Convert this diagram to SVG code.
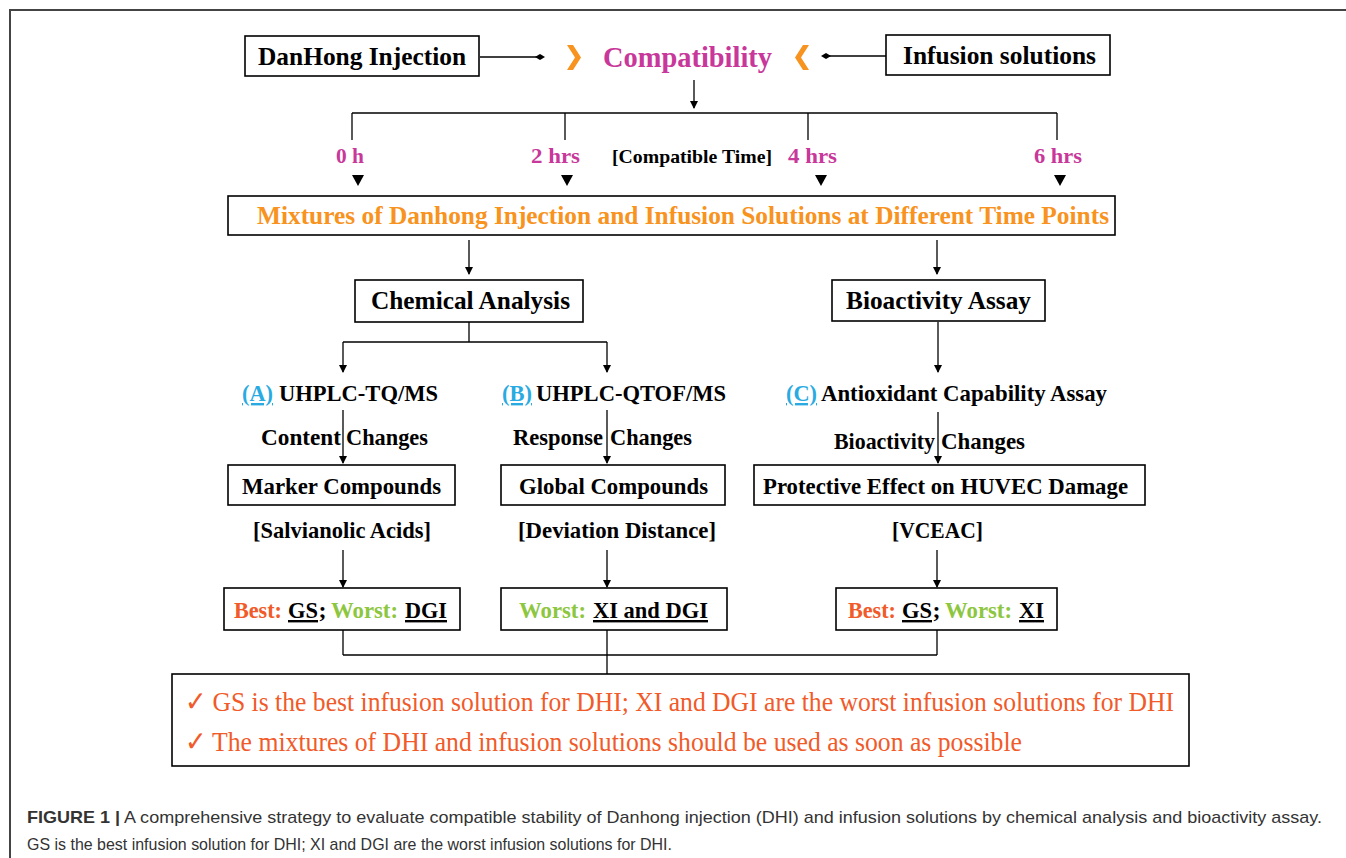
<svg xmlns="http://www.w3.org/2000/svg" width="1346" height="858" viewBox="0 0 1346 858">
<defs>
<marker id="arr" markerUnits="userSpaceOnUse" markerWidth="8" markerHeight="11" refX="7" refY="4" orient="auto">
<path d="M0,0 L8,4 L0,8 z" fill="#000"/>
</marker>
<marker id="dia" markerUnits="userSpaceOnUse" markerWidth="10" markerHeight="8" refX="5" refY="4" orient="auto">
<path d="M0,4 L5,1 L10,4 L5,7 z" fill="#000"/>
</marker>
</defs>
<style>
.box{fill:#fff;stroke:#000;stroke-width:1.6}
.frame{fill:none;stroke:#444;stroke-width:2}
.t{font-family:"Liberation Serif","Times New Roman",serif;font-weight:bold;fill:#000}
.mag{fill:#c8389a}
.org{fill:#f7931e}
.red{fill:#f15a29}
.grn{fill:#8dc63f}
.blu{fill:#29abe2;text-decoration:underline}
.ul{text-decoration:underline}
.fin{font-family:"Liberation Serif","Times New Roman",serif;fill:#f15a29;font-size:28px}
.cap{font-family:"Liberation Sans",Arial,sans-serif;fill:#333;font-size:17px}
.ln{stroke:#000;stroke-width:1.3;fill:none}
.ar{stroke:#000;stroke-width:1.3;fill:none;marker-end:url(#arr)}
.chev{fill:#f7931e}
</style>
<rect class="frame" x="10" y="10" width="1400" height="900"/>

<g id="connectors">
<line x1="480" y1="57" x2="540" y2="57" class="ln" marker-end="url(#dia)"/>
<line x1="886" y1="56" x2="826" y2="56" class="ln" marker-end="url(#dia)"/>
<line x1="694" y1="80" x2="694" y2="108" class="ar"/>
<line x1="352" y1="113" x2="1057" y2="113" class="ln"/>
<line x1="352" y1="113" x2="352" y2="140" class="ln"/>
<line x1="565" y1="113" x2="565" y2="140" class="ln"/>
<line x1="808" y1="113" x2="808" y2="140" class="ln"/>
<line x1="1057" y1="113" x2="1057" y2="140" class="ln"/>
<polygon points="352,175 364,175 358,186" fill="#000"/>
<polygon points="561,175 573,175 567,186" fill="#000"/>
<polygon points="815,175 827,175 821,186" fill="#000"/>
<polygon points="1054,175 1066,175 1060,186" fill="#000"/>
<line x1="469" y1="240" x2="469" y2="274" class="ar"/>
<line x1="937" y1="240" x2="937" y2="274" class="ar"/>
<line x1="469" y1="322" x2="469" y2="342" class="ln"/>
<line x1="343" y1="342" x2="607" y2="342" class="ln"/>
<line x1="343" y1="342" x2="343" y2="372" class="ar"/>
<line x1="607" y1="342" x2="607" y2="372" class="ar"/>
<line x1="938" y1="322" x2="938" y2="372" class="ar"/>
<line x1="343" y1="410" x2="343" y2="463" class="ar"/>
<line x1="607" y1="410" x2="607" y2="463" class="ar"/>
<line x1="938" y1="412" x2="938" y2="463" class="ar"/>
<line x1="343" y1="550" x2="343" y2="587" class="ar"/>
<line x1="607" y1="550" x2="607" y2="587" class="ar"/>
<line x1="937" y1="550" x2="937" y2="587" class="ar"/>
<line x1="343" y1="630" x2="343" y2="655" class="ln"/>
<line x1="937" y1="630" x2="937" y2="655" class="ln"/>
<line x1="343" y1="655" x2="937" y2="655" class="ln"/>
<line x1="607" y1="630" x2="607" y2="674" class="ln"/>
</g>

<g id="danhong">
<rect class="box" x="245" y="36" width="234" height="40"/>
<text class="t" x="258" y="65" font-size="26" textLength="208" lengthAdjust="spacingAndGlyphs">DanHong Injection</text>
</g>
<g id="compatibility">
<polygon class="chev" points="567,45 573,45 581,57.5 573,70 567,70 575,57.5"/>
<text class="t mag" x="603" y="67" font-size="29" textLength="169" lengthAdjust="spacingAndGlyphs">Compatibility</text>
<polygon class="chev" points="809,45 803,45 795,57.5 803,70 809,70 801,57.5"/>
</g>
<g id="infusion">
<rect class="box" x="886" y="35" width="224" height="40"/>
<text class="t" x="903" y="64" font-size="26" textLength="193" lengthAdjust="spacingAndGlyphs">Infusion solutions</text>
</g>
<g id="times">
<text class="t mag" x="336" y="163" font-size="22" textLength="28" lengthAdjust="spacingAndGlyphs">0 h</text>
<text class="t mag" x="531" y="163" font-size="22" textLength="49" lengthAdjust="spacingAndGlyphs">2 hrs</text>
<text class="t" x="612" y="163" font-size="19" textLength="160" lengthAdjust="spacingAndGlyphs">[Compatible Time]</text>
<text class="t mag" x="788" y="163" font-size="22" textLength="49" lengthAdjust="spacingAndGlyphs">4 hrs</text>
<text class="t mag" x="1034" y="163" font-size="22" textLength="48" lengthAdjust="spacingAndGlyphs">6 hrs</text>
</g>
<g id="mixtures">
<rect class="box" x="228" y="196" width="887" height="39"/>
<text class="t org" x="257" y="224" font-size="25" textLength="852" lengthAdjust="spacingAndGlyphs">Mixtures of Danhong Injection and Infusion Solutions at Different Time Points</text>
</g>
<g id="chemical">
<rect class="box" x="355" y="280" width="228" height="42"/>
<text class="t" x="371" y="309" font-size="25" textLength="199" lengthAdjust="spacingAndGlyphs">Chemical Analysis</text>
</g>
<g id="bioactivity">
<rect class="box" x="832" y="280" width="213" height="41"/>
<text class="t" x="846" y="309" font-size="25" textLength="185" lengthAdjust="spacingAndGlyphs">Bioactivity Assay</text>
</g>
<g id="methodA">
<text class="t blu" x="242" y="401" font-size="24" textLength="31" lengthAdjust="spacingAndGlyphs">(A)</text>
<text class="t" x="279" y="401" font-size="24" textLength="159" lengthAdjust="spacingAndGlyphs">UHPLC-TQ/MS</text>
<text class="t" x="261" y="445" font-size="23" textLength="80" lengthAdjust="spacingAndGlyphs">Content</text>
<text class="t" x="346" y="445" font-size="23" textLength="82" lengthAdjust="spacingAndGlyphs">Changes</text>
</g>
<g id="methodB">
<text class="t blu" x="502" y="401" font-size="24" textLength="30" lengthAdjust="spacingAndGlyphs">(B)</text>
<text class="t" x="536" y="401" font-size="24" textLength="190" lengthAdjust="spacingAndGlyphs">UHPLC-QTOF/MS</text>
<text class="t" x="513" y="445" font-size="23" textLength="90" lengthAdjust="spacingAndGlyphs">Response</text>
<text class="t" x="610" y="445" font-size="23" textLength="82" lengthAdjust="spacingAndGlyphs">Changes</text>
</g>
<g id="methodC">
<text class="t blu" x="786" y="401" font-size="24" textLength="31" lengthAdjust="spacingAndGlyphs">(C)</text>
<text class="t" x="821" y="401" font-size="24" textLength="286" lengthAdjust="spacingAndGlyphs">Antioxidant Capability Assay</text>
<text class="t" x="834" y="449" font-size="23" textLength="101" lengthAdjust="spacingAndGlyphs">Bioactivity</text>
<text class="t" x="941" y="449" font-size="23" textLength="84" lengthAdjust="spacingAndGlyphs">Changes</text>
</g>
<g id="marker">
<rect class="box" x="228" y="465" width="227" height="40"/>
<text class="t" x="242" y="494" font-size="24" textLength="199" lengthAdjust="spacingAndGlyphs">Marker Compounds</text>
<text class="t" x="253" y="538" font-size="23" textLength="178" lengthAdjust="spacingAndGlyphs">[Salvianolic Acids]</text>
</g>
<g id="global">
<rect class="box" x="501" y="465" width="224" height="40"/>
<text class="t" x="519" y="494" font-size="24" textLength="189" lengthAdjust="spacingAndGlyphs">Global Compounds</text>
<text class="t" x="518" y="538" font-size="23" textLength="198" lengthAdjust="spacingAndGlyphs">[Deviation Distance]</text>
</g>
<g id="protective">
<rect class="box" x="754" y="465" width="391" height="40"/>
<text class="t" x="763" y="494" font-size="24" textLength="365" lengthAdjust="spacingAndGlyphs">Protective Effect on HUVEC Damage</text>
<text class="t" x="892" y="538" font-size="23" textLength="91" lengthAdjust="spacingAndGlyphs">[VCEAC]</text>
</g>
<g id="resultA">
<rect class="box" x="224" y="588" width="236" height="42"/>
<text class="t red" x="234" y="618" font-size="24" textLength="48" lengthAdjust="spacingAndGlyphs">Best:</text>
<text class="t ul" x="288" y="618" font-size="24" textLength="30" lengthAdjust="spacingAndGlyphs">GS</text>
<text class="t" x="318.5" y="618" font-size="24">;</text>
<text class="t grn" x="331" y="618" font-size="24" textLength="67" lengthAdjust="spacingAndGlyphs">Worst:</text>
<text class="t ul" x="405" y="618" font-size="24" textLength="42" lengthAdjust="spacingAndGlyphs">DGI</text>
</g>
<g id="resultB">
<rect class="box" x="501" y="588" width="226" height="42"/>
<text class="t grn" x="519" y="618" font-size="24" textLength="67" lengthAdjust="spacingAndGlyphs">Worst:</text>
<text class="t ul" x="593" y="618" font-size="24" textLength="115" lengthAdjust="spacingAndGlyphs">XI and DGI</text>
</g>
<g id="resultC">
<rect class="box" x="836" y="588" width="221" height="42"/>
<text class="t red" x="848" y="618" font-size="24" textLength="48" lengthAdjust="spacingAndGlyphs">Best:</text>
<text class="t ul" x="902" y="618" font-size="24" textLength="30" lengthAdjust="spacingAndGlyphs">GS</text>
<text class="t" x="932.5" y="618" font-size="24">;</text>
<text class="t grn" x="945" y="618" font-size="24" textLength="67" lengthAdjust="spacingAndGlyphs">Worst:</text>
<text class="t ul" x="1019" y="618" font-size="24" textLength="25" lengthAdjust="spacingAndGlyphs">XI</text>
</g>
<g id="conclusion">
<rect class="box" x="172" y="674" width="1017" height="92"/>
<text class="fin" x="185" y="711" textLength="989" lengthAdjust="spacingAndGlyphs">✓  GS is the best infusion solution for DHI; XI and DGI are the worst infusion solutions for DHI</text>
<text class="fin" x="185" y="751" textLength="837" lengthAdjust="spacingAndGlyphs">✓  The mixtures of DHI and infusion solutions should be used as soon as possible</text>
</g>
<g id="caption">
<text class="cap" x="27" y="823" textLength="1295" lengthAdjust="spacingAndGlyphs"><tspan font-weight="bold">FIGURE 1 |</tspan> A comprehensive strategy to evaluate compatible stability of Danhong injection (DHI) and infusion solutions by chemical analysis and bioactivity assay.</text>
<text class="cap" x="27" y="850" textLength="645" lengthAdjust="spacingAndGlyphs">GS is the best infusion solution for DHI; XI and DGI are the worst infusion solutions for DHI.</text>
</g>
</svg>
